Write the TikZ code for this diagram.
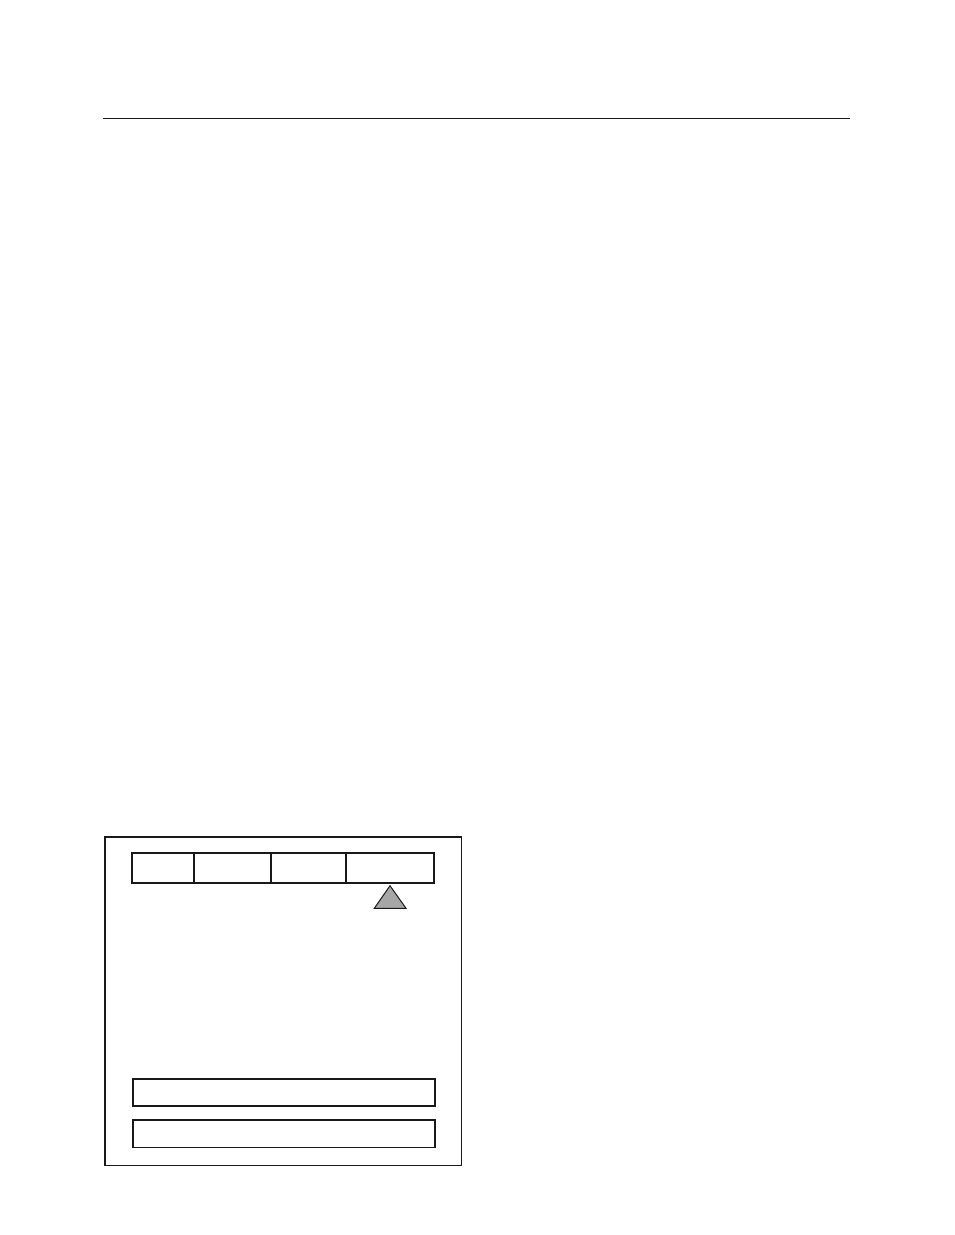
\documentclass[tikz,border=0pt]{standalone}
\begin{document}
\begin{tikzpicture}[x=1pt,y=-1pt,
  frame/.style={draw=black!90,line width=1.6pt},
  cell/.style={draw=black!90,line width=1.8pt,minimum height=30.6pt,inner sep=0pt,outer sep=0pt,anchor=north west},
  bar/.style={draw=black!90,line width=1.8pt,minimum width=302.3pt,minimum height=27.3pt,inner sep=0pt,anchor=north west},
  marker/.style={draw=black!90,fill=black!35,line width=1pt}]
\useasboundingbox (0,0) rectangle (954,1235);
\coordinate (l1) at (103,118.3);
\coordinate (l2) at (850,118.3);
\draw[line width=1.2pt,black!90] (l1) -- (l2);
\draw[frame] (105,837) rectangle (461.5,1165.5);
\node[cell,minimum width=62.3pt] (c1) at (131.7,852.7) {};
\node[cell,minimum width=76.7pt] (c2) at (194,852.7) {};
\node[cell,minimum width=75.6pt] (c3) at (270.7,852.7) {};
\node[cell,minimum width=87.7pt] (c4) at (346.3,852.7) {};
\draw[draw=white,line width=1.2pt] (346.3,853.7) -- (346.3,882.3);
\draw[black!90,line width=1pt] (346.3,852.7) -- (346.3,883.3);
\draw[marker] (390,885.7) -- (406,908.3) -- (374.3,908.3) -- cycle;
\node[bar] (b1) at (131.7,1077.7) {};
\node[bar] (b2) at (131.7,1119.3) {};
\end{tikzpicture}
\end{document}
